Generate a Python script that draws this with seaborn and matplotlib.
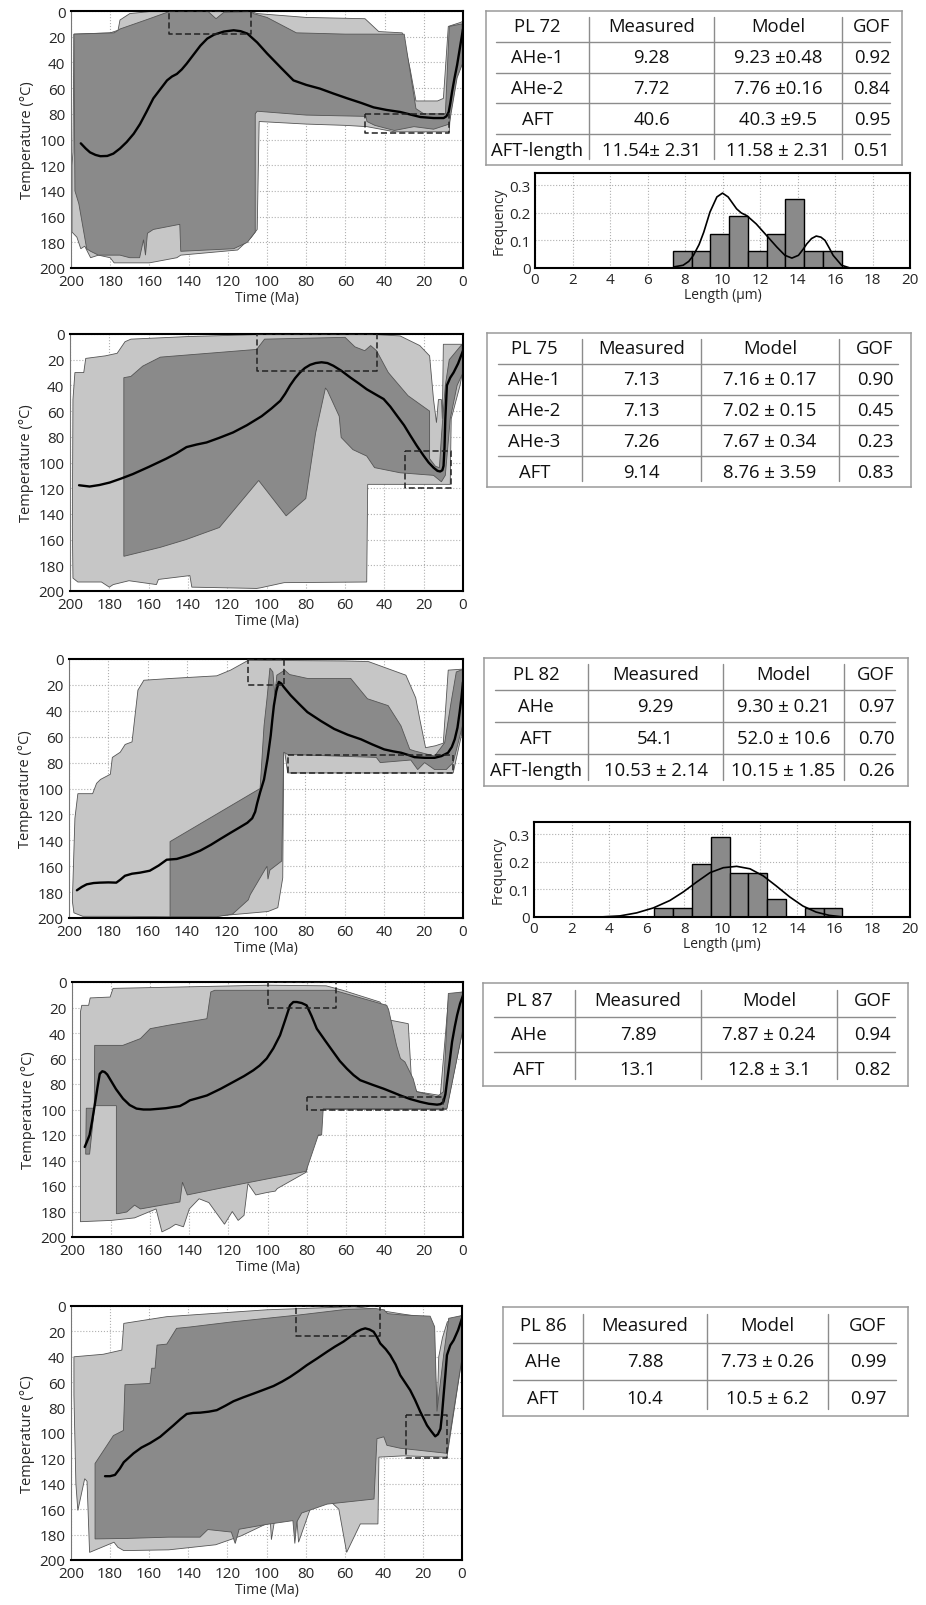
import numpy as np
import pandas as pd
import seaborn as sns
import matplotlib
matplotlib.use('Agg')
import matplotlib.pyplot as plt
from matplotlib.ticker import MultipleLocator, FuncFormatter

# ---------------------------------------------------------------- data
# envelopes are (time Ma, temperature C) outlines, best fit paths and
# constraint boxes (old t, young t, top T, bottom T)

pl72_acc = [(199, 110), (198.5, 18), (180, 17), (176, 15), (175, 7), (170, 2), (160, 0.5), (108, 0.5),
            (105, 2), (80, 5), (50, 6), (43, 16), (31, 17), (27, 45), (24, 70), (13, 70), (10, 68),
            (7.5, 12), (1.5, 9), (0, 8), (0, 40), (3, 48), (6.5, 80), (7, 94), (20, 94), (35, 94),
            (49, 90), (60, 89), (80, 88), (104, 86), (105, 170), (108, 176), (115, 186), (144, 190),
            (146, 192), (160, 196), (178, 196), (180, 192), (186, 190), (190, 192), (193, 183),
            (195, 185), (197, 176), (199.5, 172), (199.5, 120)]
pl72_good = [(198.5, 18), (178, 17), (175, 14), (160, 6), (150, 0.5), (130, 0.5), (126, 6), (122, 1),
             (108, 0.5), (107, 2), (100, 5), (85, 17), (60, 18), (30, 18), (24, 76), (20, 80), (9, 80),
             (7, 12), (0.5, 10), (0, 40), (3, 52), (7, 88), (15, 92), (25, 90), (35, 93), (45, 89),
             (49, 86), (49.5, 82), (80, 81), (105, 78), (106, 80), (106, 172), (110, 180), (117, 185),
             (144, 187), (144.5, 166), (158, 170), (161, 173), (162, 190), (163, 178), (165, 192),
             (170, 192), (175, 190), (186, 190), (190, 187), (192, 185), (196, 150), (198, 140)]
pl72_path_t = [195, 192.5, 190.3, 187.5, 185, 181.5, 178.4, 175, 171.6, 168, 164.8, 161.5, 158, 154.5,
               151, 148.5, 146, 143.5, 141, 137.5, 134, 130.5, 127, 122, 117, 113.5, 110, 105, 100,
               93, 86.5, 80, 73, 66, 59, 52, 45.6, 39, 32, 27, 21.8, 15, 9.9, 8.5, 7.3, 6.5, 5.6,
               4.3, 3, 1.5, 0]
pl72_path_T = [103, 107, 110, 112, 113, 112.8, 111, 107, 102, 95.5, 88, 78.5, 68, 61, 54, 51, 49, 45.5,
               41, 34, 27, 21.5, 18.4, 16, 15, 15.7, 17.6, 24.5, 33, 44, 54, 57.5, 60.4, 64.3, 68, 71.5,
               75, 77, 78.6, 80.5, 82.5, 83.3, 83.3, 82, 78.6, 72, 63, 52, 42, 28, 14]
pl72_boxes = [(150, 108, 0, 18), (50, 7, 80, 95)]

pl75_acc = [(198.5, 51), (197.5, 30), (193, 30), (192, 19), (182, 17), (176, 15), (172, 6), (169, 4),
            (140, 2), (105, 0.5), (44, 0.5), (32, 1.5), (22, 9), (17, 17), (15, 51), (13.5, 69),
            (12.5, 51), (11, 51), (10.5, 66), (10, 8), (0, 8), (0, 27), (1.5, 40), (6, 66), (6.5, 117),
            (48.5, 117), (49, 193), (91, 193.5), (103, 197.5), (105, 198), (138, 197), (139, 188),
            (155, 191), (156, 195), (170, 192), (178, 195), (180, 197), (184, 193), (196, 193),
            (198.5, 190), (198.8, 150)]
pl75_good = [(172.6, 34), (169, 33), (163, 25), (154, 18), (105, 12), (101, 4), (60, 2.6), (55, 10),
             (50, 13), (47, 9), (44, 13), (38, 30), (28, 48), (17, 60), (17, 97), (14, 103), (12, 104),
             (11, 80), (9, 40), (7, 20), (0.5, 8), (0, 30), (3, 40), (6.5, 66), (9, 110), (11, 115),
             (15, 110), (32, 108), (45, 104), (49, 95), (56, 90), (62, 80.5), (63, 64), (69, 44),
             (70, 42), (75, 77), (80, 128), (83, 132), (90, 141.5), (104, 114), (124, 150.6),
             (141, 160), (154, 166), (172.6, 173)]
pl75_path_t = [195.4, 190, 185, 179.8, 174, 168, 160, 151, 146, 140.7, 135.5, 130.5, 124, 117, 110,
               102.5, 97.5, 93, 90.5, 88, 85.5, 83, 80.5, 77.8, 75, 72, 69, 66, 62, 57.4, 53, 49,
               44.5, 40.4, 37, 33.6, 30, 26.8, 23.5, 20, 17.5, 15, 13, 11.6, 10.5, 9.9, 9.4, 9, 8.5,
               8.2, 6.5, 4.8, 2.5, 0]
pl75_path_T = [117.7, 118.7, 117.5, 115.6, 112.5, 109, 103.5, 97, 93, 88, 86, 84.4, 80.8, 76.6, 71,
               64, 58, 52, 46.5, 40, 34.5, 30, 26.5, 24, 22.6, 22, 22.6, 24.7, 28.5, 33.8, 38.5, 43,
               47, 50.6, 56.5, 63.6, 71, 79, 87, 94.8, 100, 104, 106.5, 107, 106, 102.6, 88, 66, 50,
               40, 34, 30, 23, 13]
pl75_boxes = [(105, 44, 0, 28.5), (29.7, 6, 91, 119.5)]

pl82_acc = [(198.3, 187), (197, 123), (195.5, 104), (188, 104), (186, 96), (184, 93), (179, 89),
            (178, 76), (174, 72), (171.5, 66), (168, 64), (165, 24), (162, 16.4), (148, 15), (125, 13),
            (118, 8.6), (109, 1), (60, 1.5), (48, 2), (29, 12.5), (24, 30), (22, 46), (19, 68.5),
            (14, 67), (10, 65), (7.5, 8.6), (0, 7.8), (0.8, 59), (5, 88), (89, 88), (91, 66),
            (91.5, 169), (94, 192), (99, 195), (125, 198.5), (150, 199), (170, 198.7), (193, 198.7),
            (197.5, 196)]
pl82_good = [(148.7, 141), (103, 100), (101, 51.6), (99.5, 30.7), (98, 7), (96.5, 10), (95.5, 28),
             (94.5, 12.5), (90.5, 8.6), (88, 12), (79, 15), (57, 15), (48.5, 30.7), (38, 36),
             (31.5, 51.6), (27, 69.8), (24.6, 71), (14.4, 75), (9.3, 64.6), (6, 33), (3.4, 10), (0, 8),
             (0, 50), (5, 80), (8.5, 85.4), (14.4, 85.4), (19.5, 80), (23, 85.4), (26.5, 78), (42, 80),
             (44, 76), (89, 73.7), (91, 72), (92, 156), (98, 163), (99, 170), (99.5, 160), (108, 182),
             (109, 186), (117, 197), (125, 199), (148.7, 199)]
pl82_path_t = [196, 193.5, 191, 187.5, 184.4, 180, 176, 174, 171.6, 168, 164, 159, 154.5, 150.4, 145.3,
               139, 133.4, 128, 123, 118, 113, 109.5, 107, 105.5, 104.5, 103, 101, 99.2, 97.6, 96.8,
               96, 94.8, 93.5, 92.2, 91, 87.5, 83, 79, 72, 65.4, 58.5, 51.8, 46, 40, 35.5, 31.4, 28,
               24.6, 19.5, 14.4, 11, 7.6, 5.7, 4.2, 2.8, 1.7, 0.8, 0]
pl82_path_T = [178.6, 176, 174, 173, 172.7, 172.5, 172.7, 170.5, 167.4, 165.8, 165, 163.5, 159.5, 155,
               154.4, 151.5, 148, 143.5, 138.8, 134.2, 129.7, 126.5, 123, 118, 111.5, 103, 93, 77, 59,
               47, 36, 25, 17.7, 19, 21.6, 28, 35, 41, 48, 54, 58.5, 62, 66, 69.8, 71.3, 72.4, 74,
               75.8, 76.3, 76.3, 75, 72.4, 68, 62, 53, 41, 30, 17.7]
pl82_boxes = [(109, 91, 0, 20), (89, 5, 74, 88)]

pl87_acc = [(195.7, 188), (195.7, 23.5), (195, 18.3), (191.5, 18.3), (190.7, 12.5), (180.5, 11.8),
            (179, 5), (100, 2.5), (70, 3), (61.5, 6.5), (42.5, 15.7), (37, 30), (28, 32.7),
            (26.3, 78.4), (23.7, 86), (11.6, 89), (7.3, 10.5), (0, 7.8), (0, 36.6), (8.5, 100),
            (72.7, 100), (73, 120), (79, 123), (80, 149), (95, 162), (96, 164), (100, 165), (106, 167),
            (110, 158), (112, 183), (115, 187), (118, 180), (122, 190), (130, 173), (135, 170),
            (140, 178), (143, 192), (147, 190), (150, 193), (154, 196), (157, 178), (168, 185),
            (180, 187)]
pl87_good = [(193, 135), (192.7, 99), (188.6, 99), (188.4, 49.7), (174, 49.7), (165, 44.4),
             (160, 36.6), (151, 34), (131, 28.8), (129, 7.8), (127, 6.5), (66, 6.5), (63, 7.8),
             (39, 18.3), (38, 22), (34, 49.7), (32, 60), (29.7, 62.7), (25.5, 75.8), (23.7, 86),
             (13.3, 90), (10, 86), (7.5, 9), (0, 7.8), (0, 36.6), (8.2, 99.3), (71.5, 99.3),
             (72.3, 120), (74, 120), (80.3, 148.5), (117, 159.5), (141, 167), (143.5, 157),
             (144.8, 172.5), (165, 178), (168, 175), (172, 180.4), (176.5, 181.7), (177.3, 181.7),
             (177.3, 97), (188.4, 97), (191, 135)]
pl87_path_t = [193.5, 192.3, 191, 189.7, 188.4, 187, 185.8, 184.5, 183.3, 182, 180.7, 177.5, 173.9,
               170.5, 167, 163.5, 160, 152, 144.8, 142, 139.7, 135.5, 131, 124, 117.5, 112, 107.3,
               104, 100.4, 97, 93.6, 91, 88.5, 86.8, 85, 82.5, 80, 77.5, 74.8, 70.5, 66.3, 63, 59.4,
               56, 52.6, 46.5, 40.6, 36, 32, 27, 21.9, 17.5, 13.3, 11.5, 10, 9, 8.2, 6.8, 5.6, 4.2,
               3, 1.5, 0]
pl87_path_T = [129.4, 125, 120, 109, 96.7, 83, 72, 70, 70.6, 72.5, 75.8, 84, 91.5, 96.5, 99.3, 100,
               100, 99, 97.3, 95, 92.8, 91, 89, 83.8, 78.4, 73.8, 69.3, 65.5, 60, 52, 41.8, 30, 18.3,
               15.7, 15.7, 16.5, 18.3, 26.5, 36.6, 46, 55, 62, 68, 73, 77, 80.5, 83.7, 86.5, 89,
               91.8, 94, 95.5, 96.2, 95.8, 94, 88, 78.4, 62, 47, 35, 26, 17, 10.5]
pl87_boxes = [(100, 65, 0, 20), (80, 10, 90, 100)]

pl86_acc = [(198.5, 70), (198.5, 40), (183.5, 38), (174, 34.7), (173, 13.7), (151, 8.4), (100, 3),
            (55, 0.5), (42, 3), (40, 4), (21.5, 8.5), (14.5, 16.3), (12.8, 86), (11.9, 40), (10, 25),
            (7.5, 12.5), (0, 7.5), (0, 41), (7.7, 119), (30, 118), (42.5, 119), (43, 171.6),
            (52, 171.6), (59, 194), (63, 160), (70, 150), (77, 157), (83.6, 186), (85, 156), (96, 170),
            (97.5, 184), (98, 170), (113, 181), (126, 188), (150, 192), (173, 192.6), (176, 190),
            (178, 186), (190.5, 194), (191.8, 138), (193, 136), (196.5, 161), (197.5, 140)]
pl86_good = [(187.7, 124), (178.3, 102), (173.2, 98), (172.4, 62), (159.6, 61), (158.7, 49),
             (157, 49), (156, 30.8), (151, 30), (146, 17.6), (139, 16.5), (117, 12.4), (83, 7),
             (59, 2.6), (44, 2), (40, 3), (38, 6), (31, 7), (16.3, 8), (14, 16.3), (12.8, 83),
             (9.4, 38.7), (6.8, 9.7), (0, 7.5), (0, 41), (7.7, 116), (31.6, 112), (38.4, 109.7),
             (40, 103), (43.5, 104.5), (45, 152), (69, 156), (82, 163), (84.5, 170), (85.5, 187),
             (86.5, 169), (100, 172), (114, 175.8), (116, 187), (118, 178), (130, 176), (134, 182),
             (150, 182), (171, 183), (187.7, 183.4)]
pl86_path_t = [182.6, 180, 177.5, 175, 173, 170.5, 168, 164, 159.6, 157, 154.4, 151, 147.6, 144,
               140.8, 137.5, 134, 129.5, 125.4, 121, 116.9, 112, 106.7, 101.5, 96.4, 92, 87.9, 83.5,
               79.4, 74, 69, 65, 60.6, 57, 53.8, 51.5, 49.5, 47.3, 45.2, 43.5, 41.8, 39, 36.7, 34,
               31.6, 29, 26.5, 24, 21.3, 19.5, 17.9, 15.8, 13.7, 12.3, 11, 10.2, 9.4, 8.5, 7.7, 6,
               4.3, 2, 0]
pl86_path_T = [134, 134, 133, 128, 123, 119.5, 116, 111.5, 108, 105.5, 103, 98.5, 94, 89, 85, 84.2,
               84, 83.2, 82, 78.5, 75, 72, 69, 66, 63, 59.5, 55.8, 51.2, 46.6, 41.2, 36, 32, 28, 24,
               20.3, 18.5, 17.6, 18.5, 20.3, 24.5, 29.5, 34, 38.7, 46, 54.5, 60.5, 66.3, 74, 83.4,
               89, 94, 98.5, 102.6, 101, 96.6, 85, 70, 54, 38.7, 31, 27, 19, 9.7]
pl86_boxes = [(85, 42, 0, 24), (28.5, 7.7, 86, 120)]

# tables
table_header = ['Measured', 'Model', 'GOF']
pl72_rows = [['AHe-1', '9.28', '9.23 ±0.48', '0.92'],
             ['AHe-2', '7.72', '7.76 ±0.16', '0.84'],
             ['AFT', '40.6', '40.3 ±9.5', '0.95'],
             ['AFT-length', '11.54± 2.31', '11.58 ± 2.31', '0.51']]
pl75_rows = [['AHe-1', '7.13', '7.16 ± 0.17', '0.90'],
             ['AHe-2', '7.13', '7.02 ± 0.15', '0.45'],
             ['AHe-3', '7.26', '7.67 ± 0.34', '0.23'],
             ['AFT', '9.14', '8.76 ± 3.59', '0.83']]
pl82_rows = [['AHe', '9.29', '9.30 ± 0.21', '0.97'],
             ['AFT', '54.1', '52.0 ± 10.6', '0.70'],
             ['AFT-length', '10.53 ± 2.14', '10.15 ± 1.85', '0.26']]
pl87_rows = [['AHe', '7.89', '7.87 ± 0.24', '0.94'],
             ['AFT', '13.1', '12.8 ± 3.1', '0.82']]
pl86_rows = [['AHe', '7.88', '7.73 ± 0.26', '0.99'],
             ['AFT', '10.4', '10.5 ± 6.2', '0.97']]

# track length histograms (frequency per 1 um bin) and model curves
pl72_bins = [7.35, 8.35, 9.35, 10.35, 11.35, 12.35, 13.35, 14.35, 15.35, 16.35]
pl72_freq = [0.0625, 0.0625, 0.125, 0.1875, 0.0625, 0.125, 0.25, 0.0625, 0.0625]
pl72_curve_x = [7.4, 7.9, 8.2, 8.45, 8.75, 9.0, 9.33, 9.7, 10.0, 10.3, 10.75, 11.0, 11.3, 11.8, 12.35,
                12.9, 13.33, 13.7, 14.05, 14.3, 14.5, 14.75, 15.0, 15.25, 15.47, 15.7, 15.9, 16.35,
                16.8]
pl72_curve_y = [0.004, 0.01, 0.024, 0.046, 0.085, 0.13, 0.203, 0.258, 0.272, 0.258, 0.215, 0.2, 0.19,
                0.16, 0.118, 0.076, 0.046, 0.036, 0.046, 0.068, 0.088, 0.107, 0.116, 0.112, 0.1,
                0.072, 0.046, 0.01, 0.0]

pl82_bins = [6.4, 7.4, 8.4, 9.4, 10.4, 11.4, 12.4, 13.4, 14.4, 15.4, 16.4]
pl82_freq = [0.032, 0.032, 0.194, 0.29, 0.161, 0.161, 0.065, 0.0, 0.032, 0.032]
pl82_curve_x = [3.5, 4.57, 5.46, 6.35, 7.23, 7.94, 8.65, 9.36, 10.07, 10.78, 11.49, 12.2, 12.9, 13.6,
                14.3, 15.0, 15.7, 16.45]
pl82_curve_y = [0.0, 0.004, 0.015, 0.033, 0.06, 0.091, 0.127, 0.161, 0.179, 0.184, 0.175, 0.149,
                0.112, 0.073, 0.04, 0.018, 0.006, 0.0]

# ---------------------------------------------------------------- style
sns.set_style('white')
plt.rcParams['font.family'] = ['Open Sans', 'DejaVu Sans']
plt.rcParams['axes.unicode_minus'] = False

LIGHT = '#c6c6c6'
DARK = '#8a8a8a'
EDGE = '#555555'
W, H = 926, 1606


def px_rect(x0, y0, x1, y1):
    return [x0 / W, 1 - y1 / H, (x1 - x0) / W, (y1 - y0) / H]


def draw_history(ax, acc, good, path_t, path_T, boxes):
    at, aT = zip(*acc)
    gt, gT = zip(*good)
    ax.fill(at, aT, facecolor=LIGHT, edgecolor=EDGE, lw=0.6, zorder=1)
    ax.fill(gt, gT, facecolor=DARK, edgecolor=EDGE, lw=0.6, zorder=2)
    df = pd.DataFrame({'t': path_t, 'T': path_T})
    sns.lineplot(data=df, x='t', y='T', sort=False, estimator=None, color='black', lw=1.7,
                 ax=ax, zorder=4)
    for t0, t1, T0, T1 in boxes:
        ax.plot([t0, t1, t1, t0, t0], [T0, T0, T1, T1, T0], ls=(0, (4, 2)), color='#222222',
                lw=1.1, zorder=5)
    ax.set_xlim(200, 0)
    ax.set_ylim(200, 0)
    ax.xaxis.set_major_locator(MultipleLocator(20))
    ax.xaxis.set_minor_locator(MultipleLocator(5))
    ax.yaxis.set_major_locator(MultipleLocator(20))
    ax.yaxis.set_minor_locator(MultipleLocator(5))
    ax.tick_params(which='both', direction='in', labelsize=11, pad=4)
    ax.tick_params(which='major', length=3, width=0.8, color='#666666')
    ax.tick_params(which='minor', length=2, width=0.6, color='#888888')
    ax.grid(True, which='major', ls=':', color='#b0b0b0', lw=0.8)
    ax.set_axisbelow(True)
    for side in ['top', 'right', 'bottom']:
        ax.spines[side].set_color('black')
        ax.spines[side].set_linewidth(1.5)
    ax.spines['left'].set_color('#777777')
    ax.spines['left'].set_linewidth(0.8)
    ax.set_xlabel('Time (Ma)', fontsize=10, labelpad=1)
    ax.set_ylabel('Temperature (°C)', fontsize=10.5, labelpad=3)


def draw_table(ax, name, rows, dividers):
    n = len(rows) + 1
    ax.set_xlim(0, 1)
    ax.set_ylim(n, 0)
    ax.set_xticks([])
    ax.set_yticks([])
    for s in ax.spines.values():
        s.set_color('#9a9a9a')
        s.set_linewidth(1.1)
    edges = [0] + list(dividers) + [1]
    centers = [(edges[i] + edges[i + 1]) / 2 for i in range(4)]
    cells = [[name] + table_header] + rows
    for r, row in enumerate(cells):
        for c, txt in enumerate(row):
            ax.text(centers[c], r + 0.5, txt, ha='center', va='center', fontsize=13.3,
                    color='#111111')
    for r in range(1, n):
        ax.plot([0.025, 0.97], [r, r], color='#8c8c8c', lw=1.0)
    for d in dividers:
        ax.plot([d, d], [0.2, n - 0.2], color='#8c8c8c', lw=1.0)


def draw_hist(ax, bins, freq, cx, cy):
    centers = [(bins[i] + bins[i + 1]) / 2 for i in range(len(freq))]
    sns.histplot(x=centers, weights=freq, bins=bins, color='#8a8a8a', edgecolor='black',
                 linewidth=1.0, alpha=1, ax=ax, zorder=2)
    sns.lineplot(x=cx, y=cy, sort=False, estimator=None, color='black', lw=1.2, ax=ax, zorder=3)
    ax.set_xlim(0, 20)
    ax.set_ylim(0, 0.345)
    ax.xaxis.set_major_locator(MultipleLocator(2))
    ax.xaxis.set_minor_locator(MultipleLocator(1))
    ax.yaxis.set_major_locator(MultipleLocator(0.1))
    ax.yaxis.set_minor_locator(MultipleLocator(0.05))
    ax.yaxis.set_major_formatter(FuncFormatter(lambda v, p: '0' if abs(v) < 1e-9 else f'{v:.1f}'))
    ax.tick_params(which='both', direction='in', labelsize=11, pad=3)
    ax.tick_params(which='major', length=3, width=0.8, color='#666666')
    ax.tick_params(which='minor', length=2, width=0.6, color='#888888')
    ax.grid(True, which='major', ls=':', color='#b0b0b0', lw=0.8)
    ax.set_axisbelow(True)
    for s in ax.spines.values():
        s.set_color('black')
        s.set_linewidth(1.5)
    ax.set_xlabel('Length (µm)', fontsize=10, labelpad=0)
    ax.set_ylabel('Frequency', fontsize=10, labelpad=2)


fig = plt.figure(figsize=(W / 100, H / 100), dpi=100)

histories = [
    ((71, 12, 463, 269), pl72_acc, pl72_good, pl72_path_t, pl72_path_T, pl72_boxes),
    ((70, 335, 463, 592), pl75_acc, pl75_good, pl75_path_t, pl75_path_T, pl75_boxes),
    ((69, 660, 463, 919), pl82_acc, pl82_good, pl82_path_t, pl82_path_T, pl82_boxes),
    ((72, 983, 463, 1238), pl87_acc, pl87_good, pl87_path_t, pl87_path_T, pl87_boxes),
    ((71, 1307, 462, 1561), pl86_acc, pl86_good, pl86_path_t, pl86_path_T, pl86_boxes),
]
for box, acc, good, pt, pT, bx in histories:
    ax = fig.add_axes(px_rect(*box))
    draw_history(ax, acc, good, pt, pT, bx)

tables = [
    ((486, 12, 902, 166), 'PL 72', pl72_rows, (589, 714, 842)),
    ((487, 334, 911, 488), 'PL 75', pl75_rows, (582, 701, 839)),
    ((484, 659, 908, 787), 'PL 82', pl82_rows, (588, 723, 844)),
    ((483, 984, 908, 1087), 'PL 87', pl87_rows, (575, 701, 837)),
    ((503, 1308, 908, 1417), 'PL 86', pl86_rows, (583, 707, 828)),
]
for box, name, rows, divs in tables:
    ax = fig.add_axes(px_rect(*box))
    x0, x1 = box[0], box[2]
    draw_table(ax, name, rows, [(d - x0) / (x1 - x0) for d in divs])

ax = fig.add_axes(px_rect(535, 174, 910, 269))
draw_hist(ax, pl72_bins, pl72_freq, pl72_curve_x, pl72_curve_y)
ax = fig.add_axes(px_rect(534, 823, 910, 918))
draw_hist(ax, pl82_bins, pl82_freq, pl82_curve_x, pl82_curve_y)

fig.savefig('out.png', dpi=100, facecolor='white')
